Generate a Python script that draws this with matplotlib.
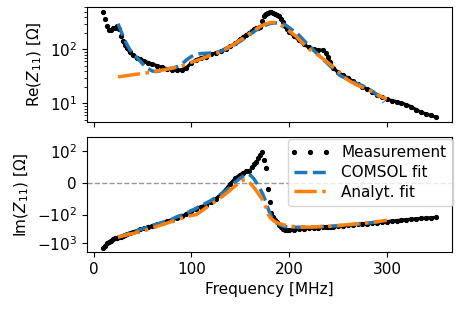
import numpy as np
import matplotlib
matplotlib.use("Agg")
import matplotlib.pyplot as plt
from matplotlib.legend_handler import HandlerLine2D
from matplotlib.lines import Line2D

# ---------------- data ----------------
freq_meas = [10, 12, 14, 16, 18, 20, 22, 24, 26, 28, 30, 32, 34, 37, 40, 44, 48, 52, 56, 60,
             65, 70, 75, 80, 85, 90, 95, 100, 105, 110, 115, 120, 125, 130, 135, 140, 145,
             150, 153, 156, 159, 162, 164, 166, 168, 170, 172, 174, 176, 178, 180, 182, 184,
             186, 188, 190, 192, 194, 196, 198, 200, 205, 210, 215, 220, 225, 230, 235, 238,
             240, 242, 245, 250, 255, 260, 265, 270, 275, 280, 285, 290, 295, 300, 305, 310,
             315, 320, 325, 330, 335, 340, 345, 350]
re_meas = [490, 370, 270, 230, 228, 245, 255, 270, 235, 180, 142, 122, 105, 90, 78, 70, 66, 61,
           57, 54, 50, 47, 44, 42.5, 42, 42, 46, 56, 65, 70, 74, 81, 86, 92, 104, 115, 130,
           155, 170, 185, 200, 222, 235, 245, 255, 265, 330, 410, 455, 480, 490, 485, 470,
           455, 440, 410, 365, 320, 270, 235, 210, 178, 148, 125, 110, 102, 98, 97, 85,
           72, 58, 46, 38, 33, 30, 26, 23, 20.5, 18.5, 16.5, 14.5, 13, 12, 11.3, 10.8,
           10.2, 9.5, 8.7, 7.7, 6.9, 6.4, 6.0, 5.6]
im_meas = [-1500, -1200, -1000, -880, -800, -720, -670, -640, -615, -580, -545, -510, -480,
           -440, -405, -362, -326, -297, -270, -245, -217, -193, -172, -152, -131, -113, -99,
           -90, -82, -75, -70, -60, -50, -38, -22, -3, 14, 25, 30, 35, 38, 50, 58, 65, 78, 88,
           95, 70, 45, -20, -60, -95, -120, -150, -180, -230, -280, -320, -345, -355, -355,
           -335, -315, -305, -300, -295, -285, -280, -278, -275, -272, -268, -255, -245, -235,
           -225, -218, -210, -205, -198, -190, -182, -175, -168, -162, -156, -150, -145, -140,
           -136, -132, -129, -126]

freq_comsol = [25, 28, 31, 34, 37, 40, 44, 48, 52, 56, 60, 64, 68, 72, 76, 80, 84, 88, 92, 96,
               100, 105, 110, 115, 120, 125, 130, 135, 140, 145, 150, 155, 158, 161, 164, 167,
               170, 173, 176, 179, 182, 185, 188, 192, 196, 200, 210, 218, 225, 238, 245, 252,
               260, 268, 276, 285, 292, 297]
re_comsol = [300, 220, 160, 125, 100, 85, 72, 60, 50, 44, 40, 39, 40, 42, 44, 45, 47, 50, 57,
             66, 74, 81, 84, 85, 86, 88, 92, 100, 110, 125, 142, 165, 180, 197, 215, 232, 250,
             268, 283, 296, 305, 310, 310, 305, 285, 255, 185, 130, 97, 58, 44, 33, 28, 24,
             21, 17, 13.5, 10.5]
im_comsol = [-620, -565, -515, -475, -440, -410, -370, -330, -295, -265, -240, -218, -198,
             -180, -162, -145, -124, -110, -100, -94, -88, -80, -72, -64, -56, -46, -36, -26,
             -13, 2, 14, 24, 27, 22, 12, -2, -18, -35, -58, -85, -120, -160, -200, -240, -262,
             -272, -275, -272, -268, -255, -250, -240, -228, -218, -205, -190, -175, -165]

freq_analyt = [25, 35, 45, 55, 65, 75, 85, 92, 100, 105, 110, 118, 125, 130, 136, 142, 147,
               150, 153, 156, 159, 162, 165, 168, 172, 175, 177, 179, 181, 183, 186, 190, 195,
               200, 207, 214, 221, 230, 242, 250, 259, 268, 276, 285, 292, 300]
re_analyt = [31, 33, 35, 37, 40, 43, 47, 51, 58, 62, 67, 76, 84, 91, 105, 120, 138, 150, 162,
             178, 195, 212, 230, 250, 275, 292, 300, 308, 315, 318, 312, 295, 255, 220, 176,
             130, 100, 78, 53, 40, 28, 22.5, 19.5, 16.5, 14, 12]
im_analyt = [-607, -500, -410, -340, -257, -198, -152, -127, -107, -100, -90, -72, -58, -47,
             -33, -18, -5, 4, 8, 9, 3, -8, -19, -32, -50, -68, -82, -103, -130, -150, -178,
             -205, -230, -250, -265, -272, -272, -265, -252, -242, -225, -212, -200, -185,
             -172, -158]

x_ticks = [0, 100, 200, 300]
legend_labels = ['Measurement', 'COMSOL fit', 'Analyt. fit']

# ---------------- figure ----------------
plt.rcParams['font.family'] = ['DejaVu Sans']
plt.rcParams['font.size'] = 11

fig = plt.figure(figsize=(4.61, 3.11), dpi=100)
ax1 = fig.add_axes([0.1881, 0.6087, 0.7931, 0.3698])
ax2 = fig.add_axes([0.1881, 0.1897, 0.7931, 0.3698], sharex=ax1)

f_m = np.array(freq_meas, float)
re_m = np.array(re_meas, float)
im_m = np.array(im_meas, float)

# measurement: dots + a connecting trace where the points are dense
mask_top = (f_m >= 30) & ~((f_m > 170) & (f_m < 176))
mask_bot = ~((f_m > 160) & (f_m < 182))
ax1.plot(f_m, np.where(mask_top, re_m, np.nan), '-', color='k', lw=2.3, zorder=2)
ax2.plot(f_m, np.where(mask_bot, im_m, np.nan), '-', color='k', lw=2.3, zorder=2)
ax1.plot(f_m, re_m, '.', color='k', ms=5.5, zorder=2)
ax2.plot(f_m, im_m, '.', color='k', ms=5.5, zorder=2)

ax1.plot(freq_comsol, re_comsol, '--', color='C0', lw=2.5, zorder=3)
ax1.plot(freq_analyt, re_analyt, '-.', color='C1', lw=2.5, zorder=4)

ax2.axhline(0, color='gray', ls='--', lw=1, alpha=0.8, zorder=1)
c2, = ax2.plot(freq_comsol, im_comsol, '--', color='C0', lw=2.5, zorder=3)
a2, = ax2.plot(freq_analyt, im_analyt, '-.', color='C1', lw=2.5, zorder=4)

ax1.set_yscale('log')
ax1.set_ylim(4.6, 620)
ax2.set_yscale('symlog', linthresh=100)
ax2.set_ylim(-2000, 300)
ax1.set_xlim(-7, 367)
ax2.set_xticks(x_ticks)
ax1.tick_params(labelbottom=False)

ax1.set_ylabel('Re($Z_{11}$) [Ω]')
ax2.set_ylabel('Im($Z_{11}$) [Ω]')
ax2.set_xlabel('Frequency [MHz]')

h_meas = Line2D([], [], ls='none', marker='.', color='k', ms=5.5)
leg = ax2.legend([h_meas, c2, a2], legend_labels,
                 loc='upper right', bbox_to_anchor=(1.001, 0.98), borderaxespad=0,
                 borderpad=0.4, labelspacing=0.3, handlelength=2.1, handletextpad=1.0,
                 handler_map={h_meas: HandlerLine2D(numpoints=3, marker_pad=0)})

fig.savefig('out.png', dpi=100)
